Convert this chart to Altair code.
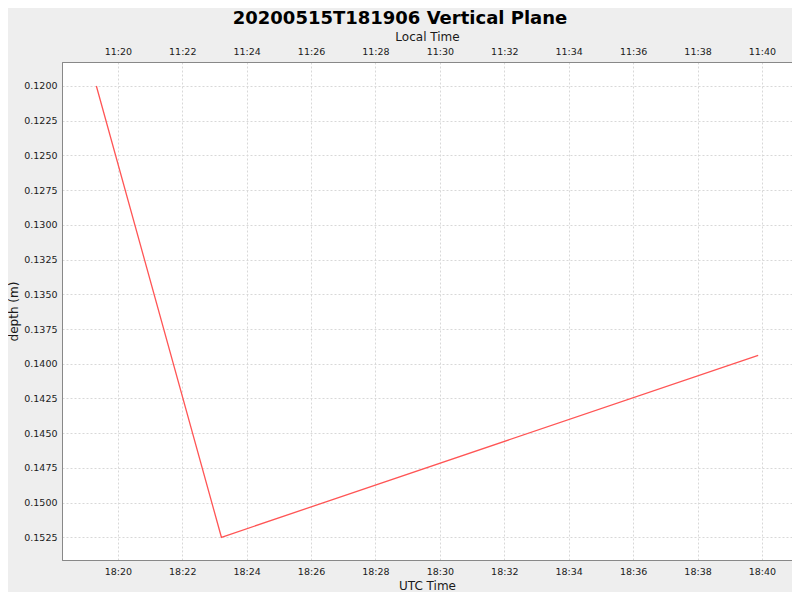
import altair as alt
import pandas as pd

# Data
utc_times = ["2020-05-15T18:19:20Z", "2020-05-15T18:23:13Z", "2020-05-15T18:39:53Z"]
depths = [0.1200, 0.1525, 0.1394]
utc_offset_hours = -7
y_ticks = [0.1200, 0.1225, 0.1250, 0.1275, 0.1300, 0.1325, 0.1350, 0.1375,
           0.1400, 0.1425, 0.1450, 0.1475, 0.1500, 0.1525]
utc_tick_minutes = [20, 22, 24, 26, 28, 30, 32, 34, 36, 38, 40]

df = pd.DataFrame({"utc": pd.to_datetime(utc_times), "depth": depths})
df["local"] = df["utc"] + pd.Timedelta(hours=utc_offset_hours)
df["utc"] = df["utc"].dt.strftime("%Y-%m-%dT%H:%M:%SZ")
df["local"] = df["local"].dt.strftime("%Y-%m-%dT%H:%M:%SZ")

FONT = "DejaVu Sans"
LABEL_SIZE = 9.5
LABEL_EXPR = "utcFormat(datum.value, '%H:%M')"


def dt(h, m, s=0):
    return alt.DateTime(year=2020, month=5, date=15, hours=h, minutes=m, seconds=s, utc=True)


utc_domain = [dt(18, 18, 16), dt(18, 40, 56)]
local_domain = [dt(11, 18, 16), dt(11, 40, 56)]
y_scale = alt.Scale(domain=[0.118272, 0.154135], reverse=True, zero=False, nice=False)

y_enc = alt.Y(
    "depth:Q",
    scale=y_scale,
    axis=alt.Axis(
        values=y_ticks, format=".4f", title="depth (m)", ticks=False, labelPadding=5,
        grid=True, gridDash=[2, 2], gridColor="#D8D8D8", domainColor="#888888",
        labelFont=FONT, labelFontSize=LABEL_SIZE, labelColor="#1A1A1A",
        titleFont=FONT, titleFontSize=12, titleFontWeight="normal", titleColor="#1A1A1A",
        titleX=-49, titleY=249, titleAngle=-90, titleAlign="center", titleBaseline="middle",
    ),
)

line = alt.Chart(df).mark_line(color="#FF5555", strokeWidth=1.3).encode(
    x=alt.X(
        "utc:T",
        scale=alt.Scale(type="utc", domain=utc_domain, nice=False),
        axis=alt.Axis(
            values=[dt(18, m) for m in utc_tick_minutes], labelExpr=LABEL_EXPR,
            title="UTC Time", ticks=False, labelPadding=6,
            grid=True, gridDash=[2, 2], gridColor="#D8D8D8", domainColor="#888888",
            labelFont=FONT, labelFontSize=LABEL_SIZE, labelColor="#1A1A1A",
            titleFont=FONT, titleFontSize=12, titleFontWeight="normal", titleColor="#1A1A1A",
            titleY=29, titleBaseline="alphabetic",
        ),
    ),
    y=y_enc,
)

top = alt.Chart(df).mark_line(strokeOpacity=0).encode(
    x=alt.X(
        "local:T",
        scale=alt.Scale(type="utc", domain=local_domain, nice=False),
        axis=alt.Axis(
            orient="top", values=[dt(11, m) for m in utc_tick_minutes], labelExpr=LABEL_EXPR,
            title="Local Time", ticks=False, labelPadding=6, grid=False,
            domainColor="#888888",
            labelFont=FONT, labelFontSize=LABEL_SIZE, labelColor="#1A1A1A",
            titleFont=FONT, titleFontSize=12, titleFontWeight="normal", titleColor="#1A1A1A",
            titleY=-22, titleBaseline="alphabetic",
        ),
    ),
    y=y_enc,
)

chart = alt.layer(line, top).resolve_scale(x="independent").properties(
    width=730,
    height=498,
    background="#EEEEEE",
    autosize=alt.AutoSizeParams(type="none"),
    padding={"left": 54, "top": 54, "right": 0, "bottom": 32},
    title=alt.Title(
        "20200515T181906 Vertical Plane", font=FONT, fontSize=18, fontWeight="bold",
        color="#000000", anchor="middle", dx=-27, offset=10, dy=22, baseline="alphabetic",
    ),
).configure_view(fill="white", stroke="#888888")

chart.save("out.html", embed_options={"renderer": "svg", "actions": False})
